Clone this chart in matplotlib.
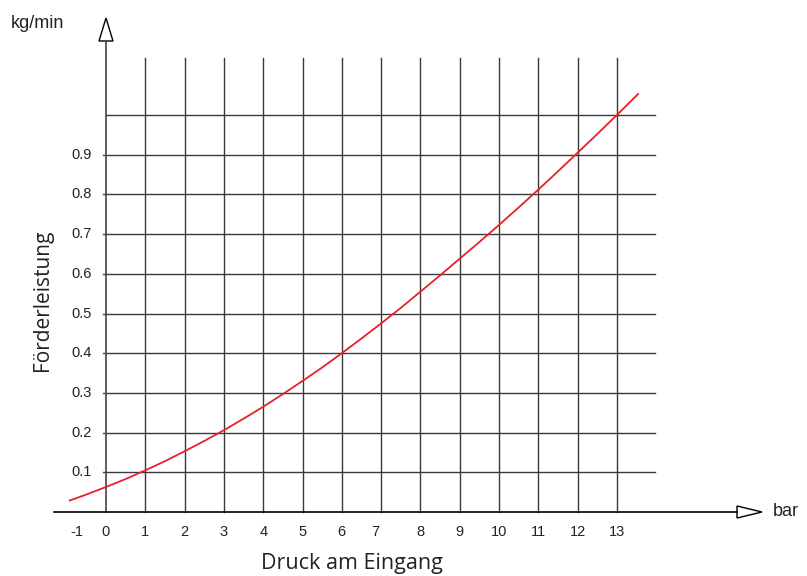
import matplotlib
matplotlib.use("Agg")
import matplotlib.pyplot as plt
from matplotlib.patches import Polygon

# curve values (pressure in bar, output in kg/min)
druck = [-0.92, -0.5, 0, 0.5, 1, 1.5, 2, 2.5, 3, 3.5, 4, 4.5, 5, 5.5, 6, 6.5,
         7, 7.5, 8, 8.5, 9, 9.5, 10, 10.5, 11, 11.5, 12, 12.5, 13, 13.54]
leistung = [0.029, 0.044, 0.063, 0.083, 0.105, 0.128, 0.153, 0.179, 0.206,
            0.235, 0.265, 0.297, 0.330, 0.364, 0.400, 0.437, 0.475, 0.514,
            0.555, 0.596, 0.638, 0.680, 0.723, 0.767, 0.812, 0.858, 0.905,
            0.952, 1.000, 1.053]

x_grid = [1, 2, 3, 4, 5, 6, 7, 8, 9, 10, 11, 12, 13]
y_grid = [0.1, 0.2, 0.3, 0.4, 0.5, 0.6, 0.7, 0.8, 0.9, 1.0]
x_labels = ['-1', '0', '1', '2', '3', '4', '5', '6', '7', '8', '9', '10', '11', '12', '13']
x_label_pos = [-0.74, 0, 1, 2, 3, 4, 5, 6, 6.86, 8, 9, 10, 11, 12, 13]
y_labels = ['0.1', '0.2', '0.3', '0.4', '0.5', '0.6', '0.7', '0.8', '0.9']
y_label_pos = [0.1, 0.2, 0.3, 0.4, 0.5, 0.6, 0.7, 0.8, 0.9]

# pixel scale of the drawing
px_x = 39.3   # pixels per bar
px_y = 397.0  # pixels per kg/min
x0_px, y0_px = 106, 512
W, H = 807, 576

def dx(p):
    return p / px_x

def dy(p):
    return p / px_y

fig = plt.figure(figsize=(W / 100, H / 100), dpi=100)
ax = fig.add_axes([0, 0, 1, 1])
ax.set_xlim(-x0_px / px_x, (W - x0_px) / px_x)
ax.set_ylim(-(H - y0_px) / px_y, y0_px / px_y)
ax.axis('off')

grid_col = '#3a3a3a'
grid_top = (y0_px - 58) / px_y
grid_right = (655 - x0_px) / px_x

for gx in x_grid:
    ax.plot([gx, gx], [0, grid_top], color=grid_col, lw=1.0)
for gy in y_grid:
    ax.plot([0, grid_right], [gy, gy], color=grid_col, lw=1.0)

# y axis with open arrow head
ax.plot([0, 0], [0, dy(y0_px - 41)], color='#444444', lw=1.2)
ax.add_patch(Polygon([[-dx(7), dy(y0_px - 41)], [dx(7), dy(y0_px - 41)], [0, dy(y0_px - 18)]],
                     closed=True, fill=False, edgecolor='black', lw=1.0))
# x axis with open arrow head
ax.plot([-dx(52), dx(737 - x0_px)], [0, 0], color='black', lw=1.2)
ax.add_patch(Polygon([[dx(737 - x0_px), dy(6)], [dx(737 - x0_px), -dy(6)], [dx(762 - x0_px), 0]],
                     closed=True, fill=False, edgecolor='black', lw=1.0))

# small ticks on y axis
for gy in y_label_pos:
    ax.plot([-dx(3), 0], [gy, gy], color='#444444', lw=1.0)

# curve
ax.plot(druck, leistung, color='#e8202a', lw=1.3)

tick_font = dict(family='Liberation Sans', fontsize=10.5, color='#222222')
for lab, pos in zip(y_labels, y_label_pos):
    ax.text(-dx(14), pos, lab, ha='right', va='center', **tick_font)
for lab, pos in zip(x_labels, x_label_pos):
    ax.text(pos, -dy(20), lab, ha='center', va='center', **tick_font)

ax.text(dx(37 - x0_px), dy(y0_px - 23), 'kg/min', ha='center', va='center',
        family='Liberation Sans', fontsize=13, color='#222222')
ax.text(dx(786 - x0_px), 0, 'bar', ha='center', va='center',
        family='Liberation Sans', fontsize=13, color='#222222')
ax.text(dx(43 - x0_px), dy(y0_px - 300), 'Förderleistung', ha='center', va='center',
        rotation=90, family='Open Sans', fontsize=15, color='#222222')
ax.text(dx(352 - x0_px), -dy(563 - y0_px), 'Druck am Eingang', ha='center', va='center',
        family='Open Sans', fontsize=15.5, color='#222222')

fig.savefig('out.png', dpi=100)
